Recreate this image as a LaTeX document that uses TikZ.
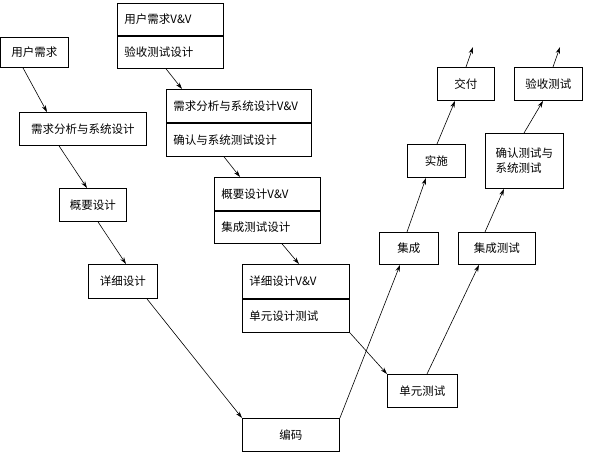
\documentclass[tikz,border=0pt]{standalone}
\usepackage{fontspec}
\setmainfont{Noto Sans CJK SC}
\usetikzlibrary{arrows.meta,positioning}

\begin{document}
\begin{tikzpicture}[
  x=1pt, y=-1pt,
  stage/.style 2 args={draw=black, line width=0.9pt, fill=white, anchor=north west, inner sep=0pt, minimum width=#1, minimum height=#2, align=center, font=\fontsize{11.5}{15}\selectfont},
  vvrow/.style 2 args={draw=black, line width=0.9pt, fill=white, anchor=north west, inner xsep=7pt, inner ysep=0pt, text width=#1, minimum height=#2, align=left, font=\fontsize{11.5}{15}\selectfont},
  arr/.style={-{Stealth[length=2.4mm, width=1.5mm]}, line width=0.6pt}
]
\useasboundingbox (0,0) rectangle (599,452);
% left leg
\node[stage={68pt}{30pt}] (user) at (0,37) {用户需求};
\node[stage={127pt}{33pt}] (analysis) at (19,112) {需求分析与系统设计};
\node[stage={67pt}{33pt}] (outline) at (59,188) {概要设计};
\node[stage={69pt}{34pt}] (detail) at (88,264) {详细设计};
\node[stage={97pt}{33pt}] (coding) at (242,418) {编码};
% V&V boxes
\node[vvrow={92pt}{32pt}] (uservv) at (117,3) {用户需求V\&V};
\node[vvrow={92pt}{32pt}, below=0pt of uservv] (usertest) {验收测试设计};
\node[vvrow={131pt}{33pt}] (analysisvv) at (166,89) {需求分析与系统设计V\&V};
\node[vvrow={131pt}{33pt}, below=0pt of analysisvv] (analysistest) {确认与系统测试设计};
\node[vvrow={92pt}{33pt}] (outlinevv) at (214,177) {概要设计V\&V};
\node[vvrow={92pt}{32pt}, below=0pt of outlinevv] (outlinetest) {集成测试设计};
\node[vvrow={93pt}{34pt}] (detailvv) at (242,264) {详细设计V\&V};
\node[vvrow={93pt}{33pt}, below=0pt of detailvv] (detailtest) {单元设计测试};
% right leg
\node[stage={70pt}{33pt}] (unit) at (387,374) {单元测试};
\node[stage={59pt}{32pt}] (integ) at (379,232) {集成};
\node[stage={77pt}{32pt}] (integtest) at (458,232) {集成测试};
\node[stage={58pt}{33pt}] (deploy) at (407,144) {实施};
\node[stage={78pt}{55pt}, align=left] (systest) at (485,133) {确认测试与\\系统测试};
\node[stage={57pt}{33pt}] (deliver) at (437,67) {交付};
\node[stage={68pt}{33pt}] (accept) at (514,67) {验收测试};
\coordinate (deliverout) at (473,47);
\coordinate (acceptout) at (560,47);
% connectors
\draw[arr] ([xshift=23pt]user.south west) -- ([xshift=28pt]analysis.north west);
\draw[arr] ([xshift=40pt]analysis.south west) -- ([xshift=28pt]outline.north west);
\draw[arr] ([xshift=39pt]outline.south west) -- ([xshift=38pt]detail.north west);
\draw[arr] ([xshift=59pt]detail.south west) -- (coding.north west);
\draw[arr] (coding.north east) -- ([xshift=21pt]integ.south west);
\draw[arr] ([xshift=49pt]usertest.south west) -- ([xshift=16pt]analysisvv.north west);
\draw[arr] ([xshift=58pt]analysistest.south west) -- ([xshift=26pt]outlinevv.north west);
\draw[arr] ([xshift=68pt]outlinetest.south west) -- ([xshift=57pt]detailvv.north west);
\draw[arr] (detailtest.south east) -- (unit.north west);
\draw[arr] ([xshift=40pt]unit.north west) -- ([xshift=21pt]integtest.south west);
\draw[arr] ([xshift=28pt]integ.north west) -- ([xshift=19pt]deploy.south west);
\draw[arr] ([xshift=27pt]integtest.north west) -- ([xshift=19pt]systest.south west);
\draw[arr] ([xshift=30pt]deploy.north west) -- ([xshift=18pt]deliver.south west);
\draw[arr] ([xshift=39pt]systest.north west) -- ([xshift=29pt]accept.south west);
\draw[arr] ([xshift=29pt]deliver.north west) -- (deliverout);
\draw[arr] ([xshift=39pt]accept.north west) -- (acceptout);
\end{tikzpicture}
\end{document}
